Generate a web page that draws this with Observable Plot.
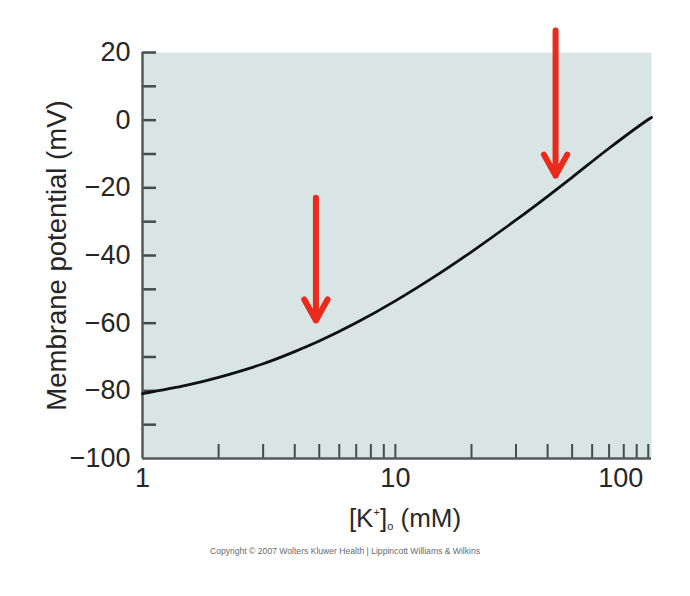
<!DOCTYPE html>
<html>
<head>
<meta charset="utf-8">
<script src="https://cdn.jsdelivr.net/npm/d3@7"></script>
<script src="https://cdn.jsdelivr.net/npm/@observablehq/plot@0.6"></script>
<style>
  html, body { margin: 0; padding: 0; background: #ffffff; }
  body { width: 690px; height: 596px; position: relative; overflow: hidden;
         font-family: "Liberation Sans", Arial, Helvetica, sans-serif; }
  #xlabel { position: absolute; top: 503px; left: 405px; transform: translateX(-50%);
            font-size: 26px; color: #2a2a2a; white-space: nowrap; }
  #xlabel sup { font-size: 11px; vertical-align: 11px; }
  #xlabel sub { font-size: 11px; vertical-align: -3px; }
  #copy { position: absolute; top: 546px; left: 345px; transform: translateX(-50%);
          font-size: 8.6px; color: #6a6a6a; white-space: nowrap; }
</style>
</head>
<body>
<div id="chart"></div>
<div id="xlabel">[K<sup>+</sup>]<sub>o</sub> (mM)</div>
<div id="copy">Copyright © 2007 Wolters Kluwer Health | Lippincott Williams &amp; Wilkins</div>
<script>
// Extracellular K+ concentration (mM) and membrane potential (mV)
const kValues = [1, 1.5, 2, 3, 4, 5, 7, 10, 15, 20, 30, 40, 50, 70, 100, 103];
const vValues = [-80.8, -78.3, -76.0, -72.0, -68.4, -65.3, -59.9, -53.4, -45.2, -38.9, -29.5, -22.5, -16.9, -8.3, 0.2, 0.8];

// Red arrows: position on x, start (top) and tip values on y
const arrowK = [4.85, 43];
const arrowTop = [-22.9, 26.5];
const arrowTip = [-59.2, -16.4];

// Axis ticks
const xMinorTicks = [2, 3, 4, 5, 6, 7, 8, 9, 10, 20, 30, 40, 50, 60, 70, 80, 90, 100];
const xLabelTicks = [1, 10];
const xLastLabel = [100];
const yMinorTicks = [-90, -80, -70, -60, -50, -40, -30, -20, -10, 0, 10, 20];
const yLabelTicks = [-100, -80, -60, -40, -20, 0, 20];
const yTitle = "Membrane potential (mV)";

const curve = kValues.map((k, i) => ({k, v: vValues[i]}));
const arrows = arrowK.map((k, i) => ({k, top: arrowTop[i], tip: arrowTip[i]}));

const axisColor = "#555a5a";
const tickColor = "#454a4a";
const textColor = "#262626";

const chart = Plot.plot({
  width: 690,
  height: 545,
  marginLeft: 142,
  marginRight: 39,
  marginTop: 52,
  marginBottom: 87,
  style: {fontFamily: '"Liberation Sans", Arial, Helvetica, sans-serif', background: "#ffffff", color: textColor},
  x: {type: "log", domain: [1, 103]},
  y: {domain: [-100, 20]},
  marks: [
    Plot.frame({fill: "#d8e5e4", stroke: null}),
    // inward tick marks
    Plot.axisY(yMinorTicks, {tickSize: -14, tickFormat: () => "", stroke: tickColor, strokeWidth: 2.5, label: null}),
    Plot.axisX(xMinorTicks, {tickSize: -14, tickFormat: () => "", stroke: tickColor, strokeWidth: 2, label: null}),
    // tick labels
    Plot.axisY(yLabelTicks, {tickSize: 0, tickPadding: 12, fontSize: 27, fill: textColor, label: null}),
    Plot.axisX(xLabelTicks, {tickSize: 0, tickPadding: 9, fontSize: 27, fill: textColor, tickFormat: d => String(d), label: null}),
    Plot.axisX(xLastLabel, {tickSize: 0, tickPadding: 9, fontSize: 27, fill: textColor, textAnchor: "end", dx: -5, tickFormat: d => String(d), label: null}),
    // axis lines
    Plot.ruleX([1], {stroke: axisColor, strokeWidth: 2.5}),
    Plot.ruleY([-100], {stroke: axisColor, strokeWidth: 2.5}),
    // y title
    Plot.text([yTitle], {frameAnchor: "left", textAnchor: "middle", dx: -85, rotate: -90, fontSize: 27.5, fill: textColor}),
    // curve
    Plot.line(curve, {x: "k", y: "v", curve: "catmull-rom", stroke: "#111111", strokeWidth: 2.8}),
    // arrows
    Plot.arrow(arrows, {x: "k", y1: "top", y2: "tip", stroke: "#ea2a1c", strokeWidth: 6, headAngle: 58, headLength: 6})
  ]
});
document.getElementById("chart").appendChild(chart);
</script>
</body>
</html>
